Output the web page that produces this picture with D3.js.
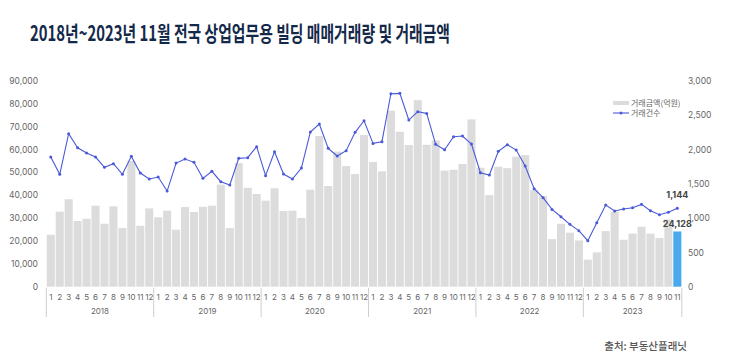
<!DOCTYPE html>
<html>
<head>
<meta charset="utf-8">
<script src="https://cdn.jsdelivr.net/npm/d3@7"></script>
<style>
  html, body { margin: 0; padding: 0; background: #fff; }
  svg { display: block; font-family: "Noto Sans CJK KR", "Noto Sans", sans-serif; }
</style>
</head>
<body>
<svg id="chart" width="730" height="363"></svg>
<script>
// 2018.01 ~ 2023.11, monthly
const years = [2018, 2019, 2020, 2021, 2022, 2023];
const months = [1,2,3,4,5,6,7,8,9,10,11,12];

// 거래금액(억원)
const amount = [
  22700, 32800, 38200, 28700, 29700, 35400, 27500, 35100, 25600, 55000, 26600, 34200,
  30300, 33200, 24900, 34800, 32600, 34900, 35400, 44600, 25600, 54000, 43200, 40500,
  37600, 43000, 33100, 33200, 30000, 42400, 65800, 44000, 59000, 52700, 49200, 66300,
  54500, 50400, 76900, 67700, 61900, 81500, 62000, 63900, 50700, 51100, 53600, 73100,
  52000, 40000, 52400, 51800, 56800, 57500, 42200, 39600, 20800, 27500, 23600, 20200,
  11800, 15000, 24300, 32800, 20500, 23200, 26200, 23200, 21300, 29400, 24128
];

// 거래건수
const count = [
  1888, 1636, 2228, 2024, 1947, 1888, 1738, 1791, 1636, 1898, 1655, 1568,
  1597, 1393, 1801, 1859, 1811, 1578, 1680, 1529, 1481, 1869, 1879, 2039,
  1617, 1966, 1641, 1568, 1728, 2252, 2369, 2015, 1903, 1981, 2248, 2417,
  2087, 2112, 2811, 2816, 2427, 2549, 2524, 2073, 1995, 2184, 2194, 2078,
  1660, 1626, 1971, 2068, 1990, 1757, 1427, 1296, 1126, 1019, 908, 816,
  670, 932, 1189, 1102, 1131, 1150, 1199, 1107, 1049, 1083, 1144
];

const leftTicks = [0, 10000, 20000, 30000, 40000, 50000, 60000, 70000, 80000, 90000];
const rightTicks = [0, 500, 1000, 1500, 2000, 2500, 3000];

const periods = [];
years.forEach(y => months.forEach(m => { if (periods.length < amount.length) periods.push({ y, m }); }));
const keys = periods.map(p => p.y + '-' + p.m);

const svg = d3.select('#chart');
const x0 = 46.3, x1 = 681.8, yTop = 80.7, yBot = 286.7;

const x = d3.scaleBand().domain(keys).range([x0, x1]).paddingInner(0.1).paddingOuter(0.05);
const yL = d3.scaleLinear().domain([0, 90000]).range([yBot, yTop]);
const yR = d3.scaleLinear().domain([0, 3000]).range([yBot, yTop]);

// title
svg.append('text')
  .attr('x', 30).attr('y', 40.5)
  .attr('font-size', 21).attr('font-weight', 700)
  .attr('fill', '#14294a')
  .attr('textLength', 420).attr('lengthAdjust', 'spacingAndGlyphs')
  .text('2018년~2023년 11월 전국 상업업무용 빌딩 매매거래량 및 거래금액');

// left axis
const gL = svg.append('g').attr('transform', `translate(${38},0)`)
  .call(d3.axisLeft(yL).tickValues(leftTicks).tickSize(0).tickPadding(0).tickFormat(d3.format(',')));
gL.select('.domain').remove();
gL.selectAll('text').attr('fill', '#666').attr('font-size', 8.5).attr('font-family', 'Inter, "Noto Sans", sans-serif');

// right axis
const gR = svg.append('g').attr('transform', `translate(${688},0)`)
  .call(d3.axisRight(yR).tickValues(rightTicks).tickSize(0).tickPadding(0).tickFormat(d3.format(',')));
gR.select('.domain').remove();
gR.selectAll('text').attr('fill', '#666').attr('font-size', 8.5).attr('font-family', 'Inter, "Noto Sans", sans-serif');

// bars
svg.append('g').selectAll('rect').data(amount).join('rect')
  .attr('x', (d, i) => x(keys[i]))
  .attr('width', x.bandwidth())
  .attr('y', d => yL(d))
  .attr('height', d => yBot - yL(d))
  .attr('fill', (d, i) => i === amount.length - 1 ? '#48aaea' : '#dcdcdc');

// line
const line = d3.line().x((d, i) => x(keys[i]) + x.bandwidth() / 2).y(d => yR(d));
svg.append('path').datum(count)
  .attr('fill', 'none').attr('stroke', '#4a5ad8').attr('stroke-width', 1.1)
  .attr('d', line);
svg.append('g').selectAll('circle').data(count).join('circle')
  .attr('cx', (d, i) => x(keys[i]) + x.bandwidth() / 2)
  .attr('cy', d => yR(d))
  .attr('r', 1.5).attr('fill', '#4a5ad8');

// x axis: months, years, separators
const gX = svg.append('g').attr('font-family', 'Inter, "Noto Sans", sans-serif');
gX.selectAll('text.m').data(periods).join('text')
  .attr('class', 'm')
  .attr('x', (d, i) => x(keys[i]) + x.bandwidth() / 2)
  .attr('y', 300)
  .attr('text-anchor', 'middle').attr('font-size', 8).attr('fill', '#666')
  .text(d => d.m);

years.forEach(yr => {
  const ks = keys.filter((k, i) => periods[i].y === yr);
  const a = x(ks[0]) - x.step() * x.paddingInner() / 2;
  const b = x(ks[ks.length - 1]) + x.bandwidth() + x.step() * x.paddingInner() / 2;
  gX.append('text')
    .attr('x', (a + b) / 2).attr('y', 314)
    .attr('text-anchor', 'middle').attr('font-size', 8).attr('fill', '#666')
    .text(yr);
});

const seps = [x0].concat(years.slice(1).map(yr => {
  const i = periods.findIndex(p => p.y === yr);
  return x(keys[i]) - x.step() * x.paddingInner() / 2;
})).concat([x1]);
gX.selectAll('line').data(seps).join('line')
  .attr('x1', d => d).attr('x2', d => d)
  .attr('y1', yBot + 1).attr('y2', 317)
  .attr('stroke', '#cfcfcf').attr('stroke-width', 1);

// annotations for the last month
const lastX = x(keys[keys.length - 1]) + x.bandwidth() / 2;
svg.append('text')
  .attr('x', lastX).attr('y', yR(count[count.length - 1]) - 10)
  .attr('text-anchor', 'middle').attr('font-size', 9).attr('font-weight', 700).attr('fill', '#444')
  .attr('font-family', 'Inter, "Noto Sans", sans-serif')
  .text(d3.format(',')(count[count.length - 1]));
svg.append('text')
  .attr('x', lastX).attr('y', yL(amount[amount.length - 1]) - 4)
  .attr('text-anchor', 'middle').attr('font-size', 9).attr('font-weight', 700).attr('fill', '#444')
  .attr('font-family', 'Inter, "Noto Sans", sans-serif')
  .text(d3.format(',')(amount[amount.length - 1]));

// legend
const lg = svg.append('g').attr('transform', 'translate(613,0)');
lg.append('rect').attr('x', 0).attr('y', 101).attr('width', 16).attr('height', 4).attr('fill', '#dcdcdc');
lg.append('text').attr('x', 18).attr('y', 106).attr('font-size', 8).attr('fill', '#666').text('거래금액(억원)');
lg.append('line').attr('x1', 0).attr('x2', 16).attr('y1', 113).attr('y2', 113)
  .attr('stroke', '#4a5ad8').attr('stroke-width', 1.1);
lg.append('circle').attr('cx', 8).attr('cy', 113).attr('r', 1.5).attr('fill', '#4a5ad8');
lg.append('text').attr('x', 18).attr('y', 116).attr('font-size', 8).attr('fill', '#666').text('거래건수');

// source
svg.append('text')
  .attr('x', 687).attr('y', 350)
  .attr('text-anchor', 'end').attr('font-size', 10.5).attr('font-weight', 500).attr('fill', '#555')
  .text('출처: 부동산플래닛');
</script>
</body>
</html>
